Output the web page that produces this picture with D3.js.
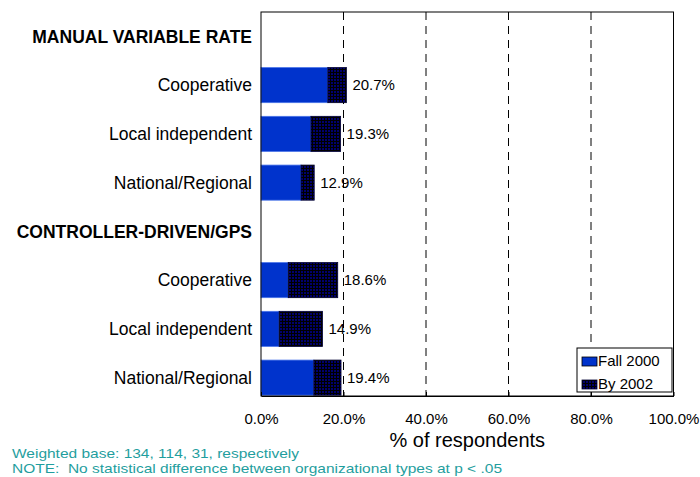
<!DOCTYPE html>
<html>
<head>
<meta charset="utf-8">
<script src="https://cdn.jsdelivr.net/npm/d3@7"></script>
<style>
  body { margin: 0; background: #fff; }
  svg { font-family: "Liberation Sans", Arial, sans-serif; display: block; }
</style>
</head>
<body>
<div id="wrapper"></div>
<script>
// chart values
const groups = ["MANUAL VARIABLE RATE", "CONTROLLER-DRIVEN/GPS"];
const orgTypes = ["Cooperative", "Local independent", "National/Regional"];
const fall2000 = [16.2, 12.1, 9.7, 6.6, 4.4, 12.8];
const by2002 = [4.5, 7.2, 3.2, 12.0, 10.5, 6.6];   // added on top of Fall 2000
const totals = [20.7, 19.3, 12.9, 18.6, 14.9, 19.4];
const xTicks = [0, 20, 40, 60, 80, 100];
const seriesNames = ["Fall 2000", "By 2002"];
const notes = [
  "Weighted base: 134, 114, 31, respectively",
  "NOTE:  No statistical difference between organizational types at p < .05"
];
const noteWidths = [287, 490];

// one row per header + one row per org type
const rows = [];
let k = 0;
groups.forEach((g) => {
  rows.push({ label: g, header: true });
  orgTypes.forEach((o) => {
    rows.push({ label: o, header: false, fall: fall2000[k], by: by2002[k], total: totals[k] });
    k++;
  });
});
rows.forEach((r, i) => (r.idx = i));

drawChart();

function drawChart() {
  const dimensions = {
    width: 700,
    height: 477,
    margins: { top: 12, right: 26.5, bottom: 81, left: 261 }
  };
  dimensions.boundedWidth = dimensions.width - dimensions.margins.left - dimensions.margins.right;
  dimensions.boundedHeight = dimensions.height - dimensions.margins.top - dimensions.margins.bottom;

  const wrapper = d3.select("#wrapper")
    .append("svg")
    .attr("width", dimensions.width)
    .attr("height", dimensions.height);

  // crosshatch fill for "By 2002"
  const pat = wrapper.append("defs").append("pattern")
    .attr("id", "hatch")
    .attr("patternUnits", "userSpaceOnUse")
    .attr("width", 3)
    .attr("height", 3);
  pat.append("rect").attr("width", 3).attr("height", 3).attr("fill", "#000");
  pat.append("rect").attr("x", 1).attr("y", 1).attr("width", 2).attr("height", 2).attr("fill", "#00006e");

  const bounds = wrapper.append("g")
    .attr("transform", `translate(${dimensions.margins.left},${dimensions.margins.top})`);

  const xScale = d3.scaleLinear()
    .domain([0, 100])
    .range([0, dimensions.boundedWidth]);

  const yScale = d3.scaleBand()
    .domain(rows.map((d) => d.idx))
    .range([0, dimensions.boundedHeight + 6])
    .paddingInner(0.28)
    .paddingOuter(0.14);

  // dashed gridlines
  bounds.append("g")
    .selectAll("line")
    .data(xTicks.filter((t) => t > 0 && t < 100))
    .join("line")
    .attr("x1", (d) => xScale(d))
    .attr("x2", (d) => xScale(d))
    .attr("y1", 0)
    .attr("y2", dimensions.boundedHeight)
    .attr("stroke", "#000")
    .attr("stroke-dasharray", "8,6");

  const barRows = rows.filter((d) => !d.header);

  // Fall 2000
  bounds.append("g")
    .selectAll("rect")
    .data(barRows)
    .join("rect")
    .attr("x", xScale(0))
    .attr("y", (d) => yScale(d.idx))
    .attr("width", (d) => xScale(d.fall) - xScale(0))
    .attr("height", yScale.bandwidth())
    .attr("fill", "#0033cc")
    .attr("stroke", "#4a74e8")
    .attr("stroke-width", 0.8);

  // By 2002
  bounds.append("g")
    .selectAll("rect")
    .data(barRows)
    .join("rect")
    .attr("x", (d) => xScale(d.fall))
    .attr("y", (d) => yScale(d.idx))
    .attr("width", (d) => xScale(d.fall + d.by) - xScale(d.fall))
    .attr("height", yScale.bandwidth())
    .attr("fill", "url(#hatch)")
    .attr("stroke", "#000033")
    .attr("stroke-width", 0.8);

  // value labels
  bounds.append("g")
    .selectAll("text")
    .data(barRows)
    .join("text")
    .attr("x", (d) => xScale(d.fall + d.by) + 6)
    .attr("y", (d) => yScale(d.idx) + yScale.bandwidth() / 2)
    .attr("dy", "0.35em")
    .style("font-size", "15px")
    .attr("fill", "#000")
    .text((d) => d.total.toFixed(1) + "%");

  // category labels
  bounds.append("g")
    .selectAll("text")
    .data(rows)
    .join("text")
    .attr("x", -9)
    .attr("y", (d) => yScale(d.idx) + yScale.bandwidth() / 2)
    .attr("dy", "0.35em")
    .attr("text-anchor", "end")
    .style("font-size", "17.5px")
    .style("font-weight", (d) => (d.header ? "bold" : "normal"))
    .attr("fill", "#000")
    .text((d) => d.label);

  // plot frame
  bounds.append("rect")
    .attr("width", dimensions.boundedWidth)
    .attr("height", dimensions.boundedHeight)
    .attr("fill", "none")
    .attr("stroke", "#000");

  // x axis
  const xAxisGenerator = d3.axisBottom(xScale)
    .tickValues(xTicks)
    .tickFormat((d) => d.toFixed(1) + "%")
    .tickSizeInner(-4)
    .tickSizeOuter(0)
    .tickPadding(17);

  const xAxis = bounds.append("g")
    .attr("transform", `translate(0,${dimensions.boundedHeight})`)
    .call(xAxisGenerator);
  xAxis.select(".domain").attr("stroke", "#000");
  xAxis.selectAll("text")
    .style("font-size", "15px")
    .style("font-family", "'Liberation Sans', Arial, sans-serif")
    .attr("fill", "#000");

  xAxis.append("text")
    .attr("x", dimensions.boundedWidth / 2)
    .attr("y", 51)
    .attr("fill", "#000")
    .attr("text-anchor", "middle")
    .style("font-size", "20px")
    .style("font-family", "'Liberation Sans', Arial, sans-serif")
    .text("% of respondents");

  // legend
  const legend = wrapper.append("g").attr("transform", "translate(577,348)");
  legend.append("rect")
    .attr("width", 95)
    .attr("height", 44)
    .attr("fill", "#fff")
    .attr("stroke", "#000");
  const items = legend.selectAll("g.item")
    .data(seriesNames)
    .join("g")
    .attr("class", "item")
    .attr("transform", (d, i) => `translate(5,${9 + i * 23})`);
  items.append("rect")
    .attr("width", 15)
    .attr("height", 9)
    .attr("fill", (d, i) => (i === 0 ? "#0033cc" : "url(#hatch)"))
    .attr("stroke", (d, i) => (i === 0 ? "#000" : "#000033"))
    .attr("stroke-width", 0.8);
  items.append("text")
    .attr("x", 16)
    .attr("y", 9)
    .style("font-size", "15px")
    .attr("fill", "#000")
    .text((d) => d);

  // footnotes (a bit condensed font, stretched to the original widths)
  wrapper.append("g")
    .selectAll("text")
    .data(notes)
    .join("text")
    .attr("x", 12)
    .attr("y", (d, i) => 458 + i * 15)
    .attr("textLength", (d, i) => noteWidths[i])
    .attr("lengthAdjust", "spacingAndGlyphs")
    .style("font-size", "13.5px")
    .style("white-space", "pre")
    .attr("fill", "#1f9e9e")
    .text((d) => d);
}
</script>
</body>
</html>
